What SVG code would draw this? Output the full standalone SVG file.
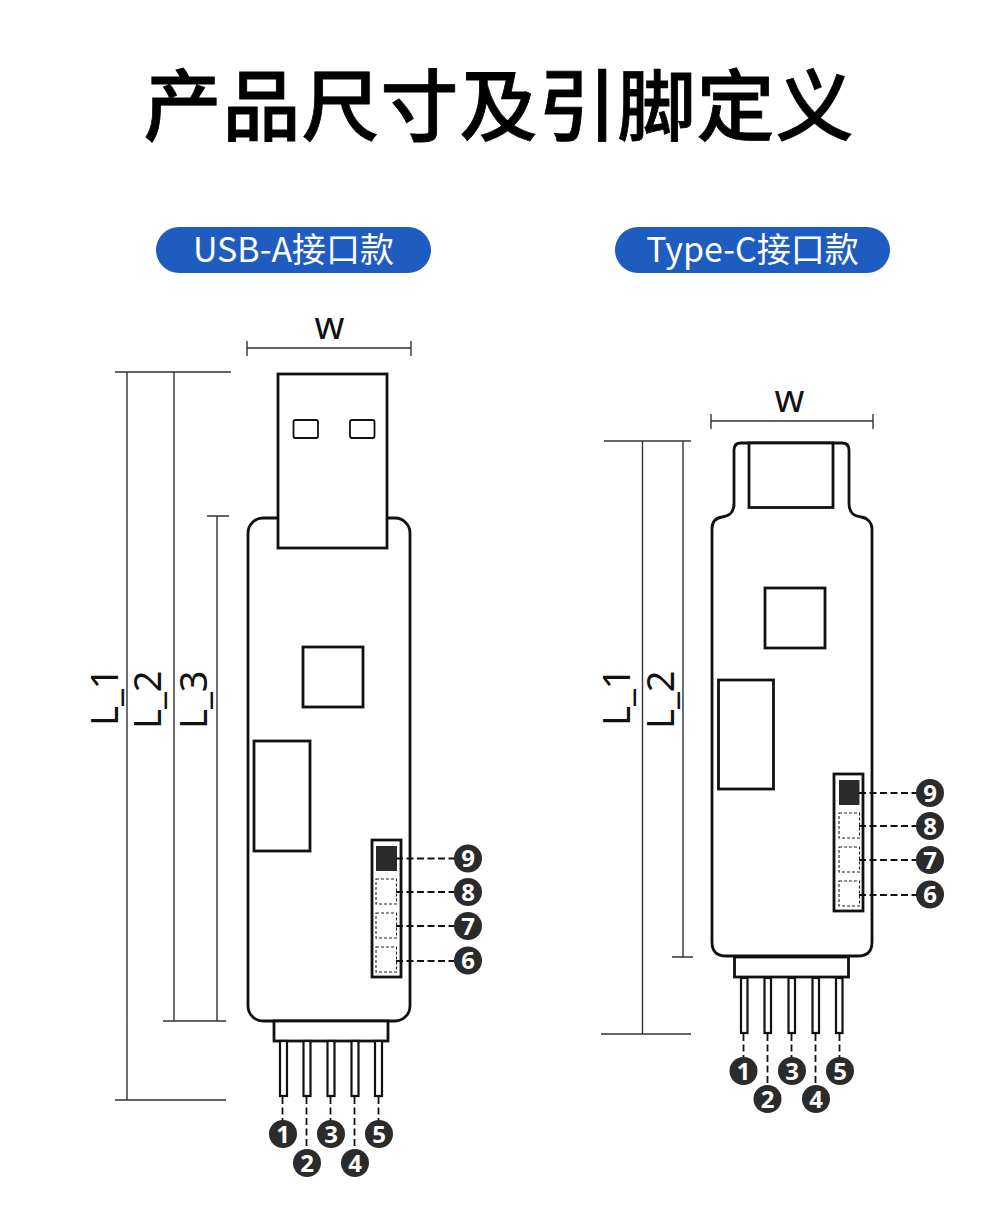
<svg xmlns="http://www.w3.org/2000/svg" width="1000" height="1232" viewBox="0 0 1000 1232">
<style>
text{font-family:"Noto Sans CJK SC","Noto Sans",sans-serif}
.o{fill:#fff;stroke:#111;stroke-width:2.8}
.p{fill:#fff;stroke:#111;stroke-width:2.2}
.t{fill:none;stroke:#111;stroke-width:1.8}
.pad{fill:#fff;stroke:#222;stroke-width:1.1;stroke-dasharray:3 2}
.dim{fill:none;stroke:#333;stroke-width:1.4}
.lead{fill:none;stroke:#111;stroke-width:1.8;stroke-dasharray:7 3.500}
.c{fill:#2b2b2b}
.n{fill:#fff;font-size:24px;font-weight:700;text-anchor:middle;font-family:"Noto Sans",sans-serif}
.dl{fill:#111;font-size:38px;font-family:"Noto Sans",sans-serif}
.pill{fill:#1f5cc0}
.pt{fill:#fff;font-size:34px;text-anchor:middle}
</style>
<rect width="1000" height="1232" fill="#fff"/>
<text id="title" x="499" y="135" font-size="78" font-weight="500" text-anchor="middle" letter-spacing="1" fill="#000" stroke="#000" stroke-width="0.8">产品尺寸及引脚定义</text>
<g id="pill-a"><rect class="pill" x="156" y="227" width="275" height="46" rx="23"/><text class="pt" x="293.500" y="262">USB-A接口款</text></g>
<g id="pill-c"><rect class="pill" x="615" y="227" width="275" height="46" rx="23"/><text class="pt" x="752.500" y="262">Type-C接口款</text></g>

<g id="usb-a-board">
<rect class="o" x="248" y="518" width="162" height="503" rx="15"/>
<rect class="o" x="278" y="374" width="109" height="174"/>
<rect class="t" x="293.500" y="420" width="24.500" height="18" rx="2"/>
<rect class="t" x="350" y="420" width="24.500" height="18" rx="2"/>
<rect class="o" x="303" y="647" width="60" height="60"/>
<rect class="o" x="254" y="741" width="56" height="110"/>
<rect class="o" x="372" y="840" width="29" height="137"/>
<rect x="376" y="846" width="21" height="25" fill="#2b2b2b"/>
<rect class="pad" x="376" y="879" width="20.500" height="25"/>
<rect class="pad" x="376" y="913" width="20.500" height="25"/>
<rect class="pad" x="376" y="947" width="20.500" height="25"/>
<rect class="o" x="274" y="1021" width="114" height="20"/>
<rect class="p" x="280" y="1041" width="7" height="55"/>
<rect class="p" x="303.500" y="1041" width="7" height="55"/>
<rect class="p" x="327.500" y="1041" width="7" height="55"/>
<rect class="p" x="351.500" y="1041" width="7" height="55"/>
<rect class="p" x="375" y="1041" width="7" height="55"/>
</g>

<g id="type-c-board">
<path class="o" d="M734 507V450Q734 443 741 443H842Q849 443 849 450V503C849 515 856 516 861 517C868 518 872 523 872 529V942Q872 956 858 956H726Q712 956 712 942V529C712 523 715 518 722 517C728 516 734 514 734 503Z"/>
<rect class="o" x="749" y="443" width="84" height="64.500"/>
<rect class="o" x="765" y="588" width="60" height="60"/>
<rect class="o" x="718.500" y="680" width="55" height="109"/>
<rect class="o" x="834" y="774" width="29" height="137"/>
<rect x="839" y="780" width="20.500" height="25" fill="#2b2b2b"/>
<rect class="pad" x="839" y="813" width="20.500" height="25"/>
<rect class="pad" x="839" y="847" width="20.500" height="25"/>
<rect class="pad" x="839" y="881" width="20.500" height="25"/>
<rect class="o" x="734.500" y="957" width="114" height="20"/>
<rect class="p" x="741" y="978" width="6.500" height="55"/>
<rect class="p" x="764.500" y="978" width="6.500" height="55"/>
<rect class="p" x="788.500" y="978" width="6.500" height="55"/>
<rect class="p" x="812.500" y="978" width="6.500" height="55"/>
<rect class="p" x="836" y="978" width="6.500" height="55"/>
</g>

<g id="connectors">
<path class="dim" d="M247 348H411M247 341V356M411 341V356M115 372H231M127 372V1100M115 1100H226M174 372V1021M163 1021H226M217 516V1021M207 516H229"/>
<path class="dim" d="M711 421H873M711 414V429M873 414V429M604 441H691M642.500 441V1034M601 1034H691M683 441V957M672 957H693"/>
<path class="lead" d="M396 858.500H455M396 892H455M396 926H455M396 961H455M282.500 1097V1122M306.500 1097V1150M330.500 1097V1122M354.500 1097V1150M378.500 1097V1122"/>
<path class="lead" d="M859 793H917M859 826H917M859 860H917M859 895H917M743.500 1034V1058M767.500 1034V1086M791.500 1034V1058M815.500 1034V1086M839.500 1034V1058"/>
</g>

<g id="dim-labels">
<text class="dl" x="329.500" y="339" text-anchor="middle">w</text>
<text class="dl" x="789.500" y="412" text-anchor="middle">w</text>
<text class="dl" transform="translate(118 726) rotate(-90)">L_1</text>
<text class="dl" transform="translate(161 729) rotate(-90)">L_2</text>
<text class="dl" transform="translate(207 729) rotate(-90)">L_3</text>
<text class="dl" transform="translate(630 726) rotate(-90)">L_1</text>
<text class="dl" transform="translate(674 729) rotate(-90)">L_2</text>
</g>

<g id="a1"><circle class="c" cx="283" cy="1134" r="14"/><text class="n" x="283" y="1142.500">1</text></g>
<g id="a2"><circle class="c" cx="307" cy="1163" r="14"/><text class="n" x="307" y="1171.500">2</text></g>
<g id="a3"><circle class="c" cx="331" cy="1134" r="14"/><text class="n" x="331" y="1142.500">3</text></g>
<g id="a4"><circle class="c" cx="355" cy="1163" r="14"/><text class="n" x="355" y="1171.500">4</text></g>
<g id="a5"><circle class="c" cx="379" cy="1134" r="14"/><text class="n" x="379" y="1142.500">5</text></g>
<g id="a9"><circle class="c" cx="468" cy="858.500" r="14"/><text class="n" x="468" y="867">9</text></g>
<g id="a8"><circle class="c" cx="468" cy="892" r="14"/><text class="n" x="468" y="900.500">8</text></g>
<g id="a7"><circle class="c" cx="468" cy="926" r="14"/><text class="n" x="468" y="934.500">7</text></g>
<g id="a6"><circle class="c" cx="468" cy="960.500" r="14"/><text class="n" x="468" y="969">6</text></g>

<g id="c1"><circle class="c" cx="743.500" cy="1071" r="14"/><text class="n" x="743.500" y="1079.500">1</text></g>
<g id="c2"><circle class="c" cx="767.500" cy="1099" r="14"/><text class="n" x="767.500" y="1107.500">2</text></g>
<g id="c3"><circle class="c" cx="792" cy="1071" r="14"/><text class="n" x="792" y="1079.500">3</text></g>
<g id="c4"><circle class="c" cx="816" cy="1099" r="14"/><text class="n" x="816" y="1107.500">4</text></g>
<g id="c5"><circle class="c" cx="840" cy="1071" r="14"/><text class="n" x="840" y="1079.500">5</text></g>
<g id="c9"><circle class="c" cx="930" cy="793" r="14"/><text class="n" x="930" y="801.500">9</text></g>
<g id="c8"><circle class="c" cx="930" cy="826" r="14"/><text class="n" x="930" y="834.500">8</text></g>
<g id="c7"><circle class="c" cx="930" cy="860" r="14"/><text class="n" x="930" y="868.500">7</text></g>
<g id="c6"><circle class="c" cx="930" cy="894.500" r="14"/><text class="n" x="930" y="903">6</text></g>
</svg>
